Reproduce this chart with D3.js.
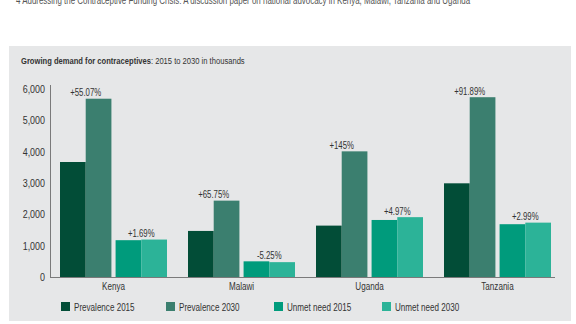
<!DOCTYPE html>
<html><head><meta charset="utf-8">
<script src="https://cdn.jsdelivr.net/npm/d3@7"></script>
<style>
html,body{margin:0;padding:0;background:#fff;}
svg{display:block;}
text{font-family:"Liberation Sans",Arial,sans-serif;}
</style></head>
<body><svg id="c" width="576" height="324"></svg>
<script>
const countries = ["Kenya", "Malawi", "Uganda", "Tanzania"];
const seriesNames = ["Prevalence 2015", "Prevalence 2030", "Unmet need 2015", "Unmet need 2030"];
const prevalence2015 = [3670, 1470, 1640, 2990];
const prevalence2030 = [5690, 2437, 4010, 5738];
const unmet2015 = [1175, 500, 1820, 1685];
const unmet2030 = [1195, 474, 1910, 1735];
const prevalenceChange = ["+55.07%", "+65.75%", "+145%", "+91.89%"];
const unmetChange = ["+1.69%", "-5.25%", "+4.97%", "+2.99%"];
const yTicks = [0, 1000, 2000, 3000, 4000, 5000, 6000];
const colors = ["#024d37", "#3b7f6f", "#009b7c", "#2cb398"];

// condense text horizontally around its x anchor
function narrow(sel, k) {
  sel.each(function () {
    const t = d3.select(this);
    const x = +t.attr("x") || 0;
    t.attr("transform", `translate(${x},0) scale(${k},1) translate(${-x},0)`);
  });
}

const svg = d3.select("#c");
// header
svg.append("text").attr("x", 16).attr("y", 3.5).attr("font-size", 10).attr("fill", "#555")
  .text("4  Addressing the Contraceptive Funding Crisis: A discussion paper on national advocacy in Kenya, Malawi, Tanzania and Uganda")
  .call(narrow, 0.795);
// panel
svg.append("rect").attr("x", 9).attr("y", 46).attr("width", 562).attr("height", 275).attr("fill", "#e6e7e8");
const title = svg.append("text").attr("x", 21).attr("y", 64.5).attr("font-size", 9.5).attr("fill", "#333");
title.append("tspan").attr("font-weight", "bold").text("Growing demand for contraceptives");
title.append("tspan").text(": 2015 to 2030 in thousands");
title.call(narrow, 0.8);

const y = d3.scaleLinear().domain([0, 6000]).range([277, 89]);
const x0 = d3.scaleBand().domain(countries).range([60, 551]).paddingInner(21/128).paddingOuter(0);
const pair = d3.scaleBand().domain(["prev", "unmet"]).range([0, x0.bandwidth()]).paddingInner(0.075);
const yr = d3.scaleBand().domain(["2015", "2030"]).range([0, pair.bandwidth()]).padding(0);

// y axis
const ya = svg.append("g").attr("transform", "translate(50,0)")
  .call(d3.axisLeft(y).tickValues(yTicks).tickSize(0).tickPadding(5).tickFormat(d3.format(",")));
ya.select(".domain").remove();
ya.selectAll("text").attr("font-size", 10.5).attr("fill", "#333").attr("font-family", null).call(narrow, 0.85);

const data = countries.map((c, i) => ({
  c,
  bars: [
    {p: "prev", yr: "2015", v: prevalence2015[i], col: colors[0]},
    {p: "prev", yr: "2030", v: prevalence2030[i], col: colors[1]},
    {p: "unmet", yr: "2015", v: unmet2015[i], col: colors[2]},
    {p: "unmet", yr: "2030", v: unmet2030[i], col: colors[3]}
  ],
  labels: [
    {p: "prev", t: prevalenceChange[i], v: Math.max(prevalence2015[i], prevalence2030[i])},
    {p: "unmet", t: unmetChange[i], v: Math.max(unmet2015[i], unmet2030[i])}
  ]
}));

const g = svg.selectAll("g.grp").data(data).join("g").attr("class", "grp")
  .attr("transform", d => `translate(${x0(d.c)},0)`);
g.selectAll("rect").data(d => d.bars).join("rect")
  .attr("x", d => pair(d.p) + yr(d.yr))
  .attr("width", yr.bandwidth())
  .attr("y", d => y(d.v))
  .attr("height", d => y(0) - y(d.v))
  .attr("fill", d => d.col);
g.selectAll("text.pct").data(d => d.labels).join("text").attr("class", "pct")
  .attr("x", d => pair(d.p) + pair.bandwidth()/2)
  .attr("y", d => y(d.v) - 2.5)
  .attr("text-anchor", "middle").attr("font-size", 10).attr("fill", "#333")
  .text(d => d.t)
  .call(narrow, 0.78);

// x axis
const xa = svg.append("g").attr("transform", "translate(0,277)")
  .call(d3.axisBottom(x0).tickSize(0).tickPadding(6));
xa.select(".domain").remove();
xa.selectAll("text").attr("font-size", 10.5).attr("fill", "#333").attr("font-family", null).call(narrow, 0.77);
svg.append("line").attr("x1", 50).attr("x2", 555).attr("y1", 277.5).attr("y2", 277.5).attr("stroke", "#7a7a7a").attr("stroke-width", 1);
svg.append("line").attr("x1", 50.5).attr("x2", 50.5).attr("y1", 85).attr("y2", 277.5).attr("stroke", "#7a7a7a").attr("stroke-width", 1);

// legend
const legX = d3.scaleOrdinal().domain(seriesNames).range([61, 166, 274, 382]);
const lg = svg.selectAll("g.leg").data(seriesNames).join("g").attr("class", "leg")
  .attr("transform", (d) => `translate(${legX(d)},302)`);
lg.append("rect").attr("width", 9).attr("height", 9).attr("fill", (d, i) => colors[i]);
lg.append("text").attr("x", 13).attr("y", 8.5).attr("font-size", 10.5).attr("fill", "#333").text(d => d)
  .call(narrow, 0.77);
</script></body></html>
